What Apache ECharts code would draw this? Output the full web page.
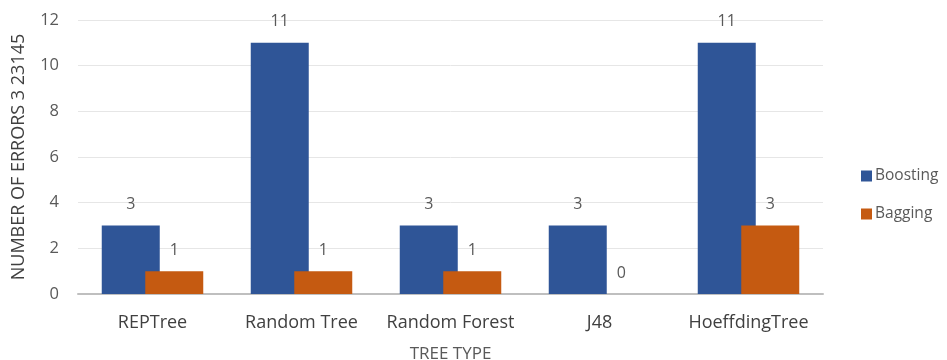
<!DOCTYPE html>
<html>
<head>
<meta charset="utf-8">
<script src="https://cdn.jsdelivr.net/npm/echarts@6/dist/echarts.min.js"></script>
<style>
  html, body { margin: 0; padding: 0; background: #fff; }
  #chart { width: 947px; height: 360px; }
</style>
</head>
<body>
<div id="chart"></div>
<script>
// Error counts per tree learner, for the two ensemble methods
const treeTypes = ['REPTree', 'Random Tree', 'Random Forest', 'J48', 'HoeffdingTree'];
const boosting = [3, 11, 3, 3, 11];
const bagging = [1, 1, 1, 0, 3];
const yTicks = { min: 0, max: 12, interval: 2 };

const textColor = '#595959';
const font = 'Open Sans';

const chart = echarts.init(document.getElementById('chart'), null, { renderer: 'canvas' });

const barLabel = {
  show: true,
  position: 'top',
  distance: 13,
  color: textColor,
  fontFamily: font,
  fontSize: 16
};

chart.setOption({
  animation: false,
  backgroundColor: '#ffffff',
  grid: {
    left: 78, right: 124, top: 20, bottom: 66,
    containLabel: false,
    outerBoundsMode: 'none'
  },
  legend: {
    orient: 'vertical',
    left: 856,
    top: 163,
    itemWidth: 11,
    itemHeight: 11,
    itemGap: 22,
    icon: 'rect',
    textStyle: { color: textColor, fontFamily: font, fontSize: 15.5, padding: [0, 0, 0, -2] },
    data: ['Boosting', 'Bagging']
  },
  xAxis: {
    type: 'category',
    data: treeTypes,
    name: 'TREE TYPE',
    nameLocation: 'middle',
    nameGap: 52,
    nameTextStyle: { color: textColor, fontFamily: font, fontSize: 17 },
    axisLine: { lineStyle: { color: '#BFBFBF', width: 2 } },
    axisTick: { show: false },
    axisLabel: { color: '#404040', fontFamily: font, fontSize: 18, margin: 20, interval: 0 }
  },
  yAxis: {
    type: 'value',
    min: yTicks.min,
    max: yTicks.max,
    interval: yTicks.interval,
    name: 'NUMBER OF ERRORS 3 23145',
    nameLocation: 'middle',
    nameGap: 50,
    nameTextStyle: { color: '#404040', fontFamily: font, fontSize: 18 },
    axisLine: { show: false },
    axisTick: { show: false },
    axisLabel: { color: textColor, fontFamily: font, fontSize: 16.5, margin: 19 },
    splitLine: { lineStyle: { color: '#E6E6E6', width: 1 } }
  },
  series: [
    {
      name: 'Boosting',
      type: 'bar',
      data: boosting,
      barWidth: 58,
      barGap: '-25%',
      itemStyle: { color: '#2F5597' },
      label: barLabel
    },
    {
      name: 'Bagging',
      type: 'bar',
      data: bagging,
      barWidth: 58,
      barGap: '-25%',
      itemStyle: { color: '#C55A11' },
      label: barLabel
    }
  ]
});
</script>
</body>
</html>
